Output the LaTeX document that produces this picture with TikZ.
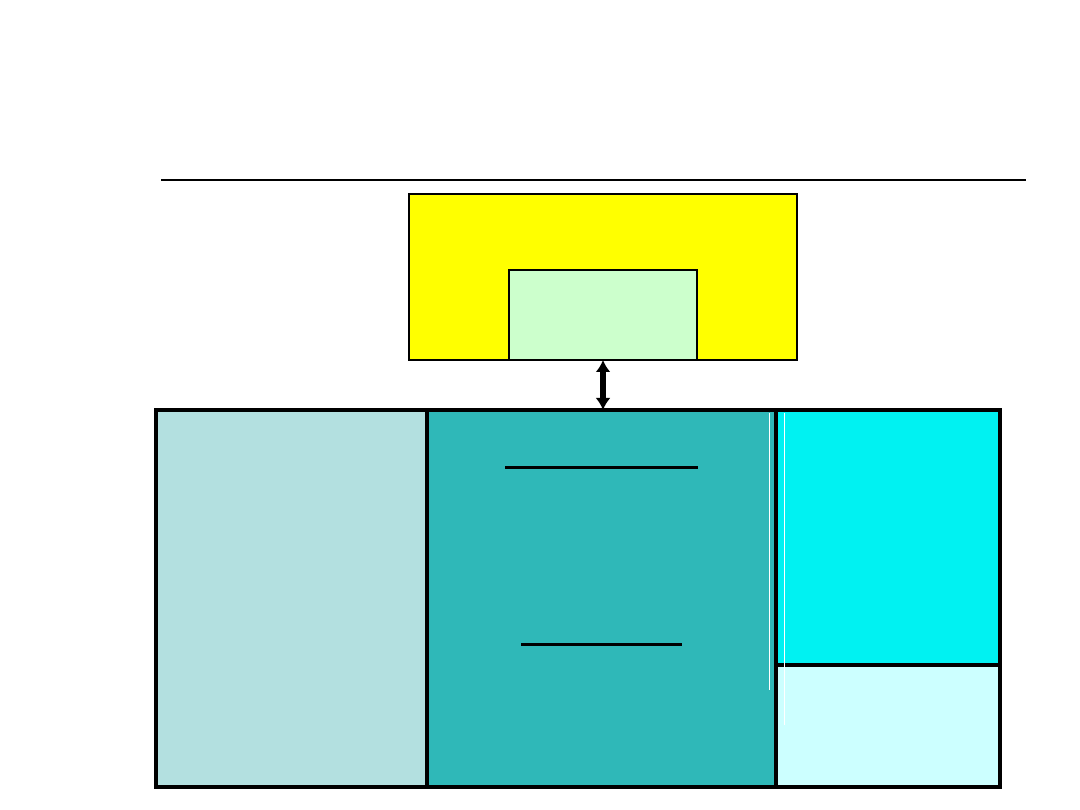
\documentclass[tikz,border=0pt]{standalone}
\usepackage{tikz}
\usetikzlibrary{arrows.meta}
\usepackage{xcolor}

\definecolor{hostyellow}{HTML}{FFFF00}
\definecolor{hostgreen}{HTML}{CCFFCC}
\definecolor{leftgray}{HTML}{B3E0E0}
\definecolor{midteal}{HTML}{2FB8B8}
\definecolor{rightcyan}{HTML}{00F2F2}
\definecolor{rightpale}{HTML}{CCFFFF}

\tikzset{
  block/.style={draw=black, anchor=north west, inner sep=0pt, outer sep=0pt},
  thinblock/.style={block, line width=1.5pt},
  thickblock/.style={block, line width=3.5pt}
}

\begin{document}
\begin{tikzpicture}[x=1pt,y=-1pt,cap=round,>={Latex[length=12pt,width=15pt]}]
            % fix the page
            \useasboundingbox (0,0) rectangle (1080,810);

            % rule under the (empty) title
            \draw[line width=2.2pt, line cap=butt] (161,180) -- (1026,180);

            % yellow box on top
            \node[thinblock, fill=hostyellow, minimum width=388pt, minimum height=166pt] (host) at (409,194) {};
            % green box inside it
            \node[thinblock, fill=hostgreen, minimum width=188pt, minimum height=90pt] (hostin) at (509,270) {};

            % left block
            \node[thickblock, fill=leftgray, minimum width=271pt, minimum height=377pt] (left) at (156,410) {};
            % middle block
            \node[thickblock, fill=midteal, minimum width=349pt, minimum height=377pt] (mid) at (427,410) {};
            % right block, upper part
            \node[thickblock, fill=rightcyan, minimum width=224pt, minimum height=255pt] (rightup) at (776,410) {};
            % right block, lower part
            \node[thickblock, fill=rightpale, minimum width=224pt, minimum height=122pt] (rightlow) at (776,665) {};

            % white lines near the middle / right border
            \coordinate (w1top) at (769,413);
            \coordinate (w1bot) at (769,690);
            \coordinate (w2top) at (784,413);
            \coordinate (w2bot) at (784,725);
            \draw[white, line width=1pt, line cap=butt] (w1top) -- (w1bot);
            \draw[white, line width=1pt, line cap=butt] (w2top) -- (w2bot);

            % rules in the middle block
            \coordinate (r1a) at (505,468);
            \coordinate (r1b) at (698,468);
            \coordinate (r2a) at (521,644);
            \coordinate (r2b) at (682,644);
            \draw[line width=3pt, line cap=butt] (r1a) -- (r1b);
            \draw[line width=3pt, line cap=butt] (r2a) -- (r2b);

            % double arrow between host and middle block
            \draw[<->, line width=6pt, line cap=butt] (hostin.south) -- (hostin.south |- mid.north);
\end{tikzpicture}
\end{document}
